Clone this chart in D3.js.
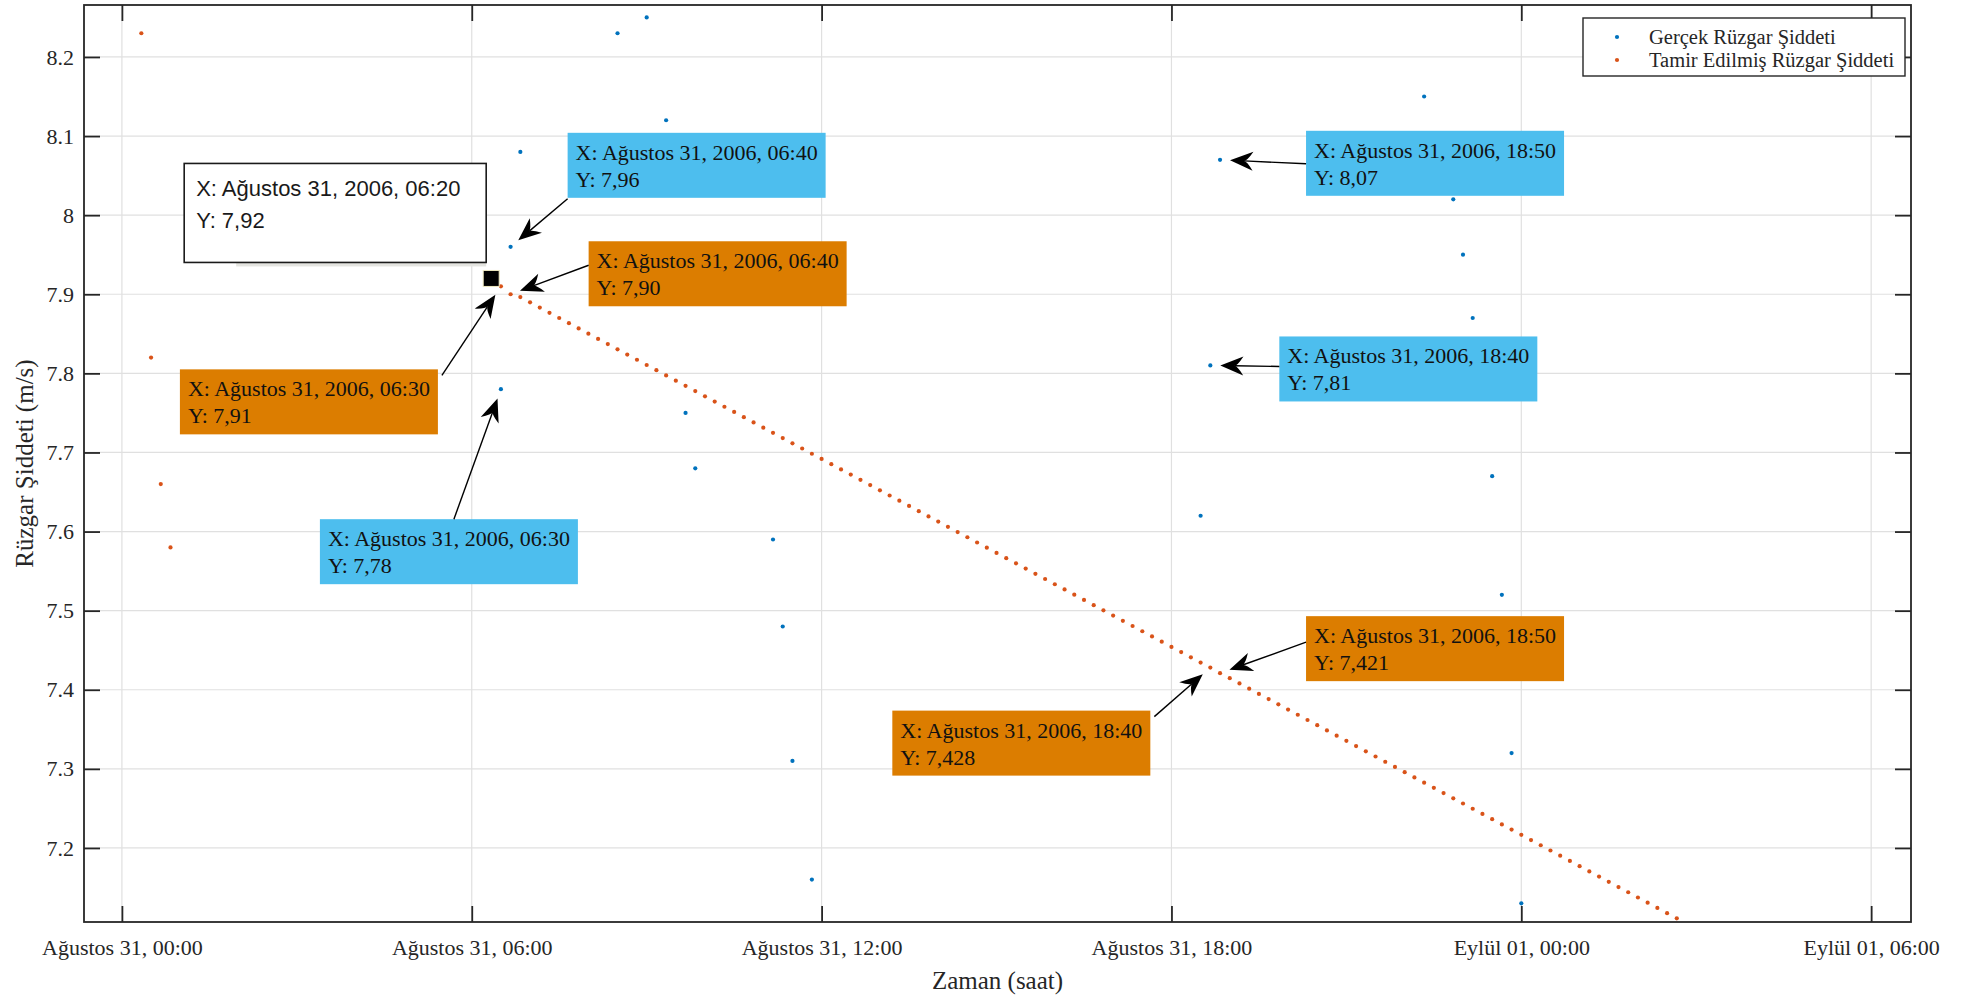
<!DOCTYPE html>
<html>
<head>
<meta charset="utf-8">
<script src="https://cdn.jsdelivr.net/npm/d3@7"></script>
<style>
  body { margin: 0; background: #fff; }
  svg { display: block; }
</style>
</head>
<body>
<svg id="chart" width="1982" height="1002"></svg>
<script>
// ---- Data -------------------------------------------------------------
// Measured wind speed (m/s), 10-minute records
const actualTimes = [
  "2006-08-31T06:30", "2006-08-31T06:40", "2006-08-31T06:50",
  "2006-08-31T08:30", "2006-08-31T09:00", "2006-08-31T09:20",
  "2006-08-31T09:40", "2006-08-31T09:50", "2006-08-31T11:10",
  "2006-08-31T11:20", "2006-08-31T11:30", "2006-08-31T11:50",
  "2006-08-31T18:30", "2006-08-31T18:40", "2006-08-31T18:50",
  "2006-08-31T22:20", "2006-08-31T22:50", "2006-08-31T23:00",
  "2006-08-31T23:10", "2006-08-31T23:30", "2006-08-31T23:40",
  "2006-08-31T23:50", "2006-09-01T00:00"
];
const actualValues = [
  7.78, 7.96, 8.08,
  8.23, 8.25, 8.12,
  7.75, 7.68, 7.59,
  7.48, 7.31, 7.16,
  7.62, 7.81, 8.07,
  8.15, 8.02, 7.95,
  7.87, 7.67, 7.52,
  7.32, 7.13
];

// Repaired wind speed: early records kept as they were
const repairedTimes = ["2006-08-31T00:20", "2006-08-31T00:30", "2006-08-31T00:40", "2006-08-31T00:50"];
const repairedValues = [8.23, 7.82, 7.66, 7.58];

// Repaired wind speed: filled block, one value per 10-minute record from fillStart
const fillStart = "2006-08-31T06:20";
const fillStepMinutes = 10;
const fillValues = [
  7.92, 7.91, 7.90, 7.8964, 7.8898, 7.8832, 7.8766, 7.8700, 7.8634, 7.8568,
  7.8502, 7.8436, 7.8370, 7.8304, 7.8238, 7.8172, 7.8106, 7.8040, 7.7974, 7.7908,
  7.7842, 7.7776, 7.7710, 7.7644, 7.7578, 7.7512, 7.7446, 7.7380, 7.7314, 7.7248,
  7.7182, 7.7116, 7.7050, 7.6984, 7.6918, 7.6852, 7.6786, 7.6720, 7.6654, 7.6588,
  7.6522, 7.6456, 7.6390, 7.6324, 7.6258, 7.6192, 7.6126, 7.6060, 7.5994, 7.5928,
  7.5862, 7.5796, 7.5730, 7.5664, 7.5598, 7.5532, 7.5466, 7.5400, 7.5334, 7.5268,
  7.5202, 7.5136, 7.5070, 7.5004, 7.4938, 7.4872, 7.4806, 7.4740, 7.4674, 7.4608,
  7.4542, 7.4476, 7.4410, 7.4344, 7.428, 7.421, 7.4146, 7.4080, 7.4014, 7.3948,
  7.3882, 7.3816, 7.3750, 7.3684, 7.3618, 7.3552, 7.3486, 7.3420, 7.3354, 7.3288,
  7.3222, 7.3156, 7.3090, 7.3024, 7.2958, 7.2892, 7.2826, 7.2760, 7.2694, 7.2628,
  7.2562, 7.2496, 7.2430, 7.2364, 7.2298, 7.2232, 7.2166, 7.2100, 7.2034, 7.1968,
  7.1902, 7.1836, 7.1770, 7.1704, 7.1638, 7.1572, 7.1506, 7.1440, 7.1374, 7.1308,
  7.1242, 7.1176, 7.1110
];

// Axis limits and ticks
const xLimits = ["2006-08-30T23:21", "2006-09-01T06:41"];
const yLimits = [7.1064, 8.2657];
const xTickTimes = ["2006-08-31T00:00", "2006-08-31T06:00", "2006-08-31T12:00",
                    "2006-08-31T18:00", "2006-09-01T00:00", "2006-09-01T06:00"];
const xTickLabels = ["Ağustos 31, 00:00", "Ağustos 31, 06:00", "Ağustos 31, 12:00",
                     "Ağustos 31, 18:00", "Eylül 01, 00:00", "Eylül 01, 06:00"];
const yTicks = [7.2, 7.3, 7.4, 7.5, 7.6, 7.7, 7.8, 7.9, 8, 8.1, 8.2];
const monthNames = ["Ocak", "Şubat", "Mart", "Nisan", "Mayıs", "Haziran",
                    "Temmuz", "Ağustos", "Eylül", "Ekim", "Kasım", "Aralık"];

const seriesNames = { actual: "Gerçek Rüzgar Şiddeti", repaired: "Tamir Edilmiş Rüzgar Şiddeti" };

// Data tips: which series, which record, how many decimals in the Y readout
const tipSeries = ["repaired", "actual", "repaired", "repaired", "actual",
                   "actual", "actual", "repaired", "repaired"];
const tipTimes  = ["2006-08-31T06:20", "2006-08-31T06:40", "2006-08-31T06:40",
                   "2006-08-31T06:30", "2006-08-31T06:30", "2006-08-31T18:50",
                   "2006-08-31T18:40", "2006-08-31T18:50", "2006-08-31T18:40"];
const tipDigits = [2, 2, 2, 2, 2, 2, 2, 3, 3];

// ---- Layout / style ----------------------------------------------------
const plot = { left: 84, right: 1911, top: 5, bottom: 922 };
const colors = {
  actual: "#0072BD", repaired: "#D95319",
  actualTip: "#4DBEEE", repairedTip: "#DC7D00",
  axis: "#262626", grid: "#e0e0e0"
};
// box offsets from the marked point, and where each arrow leaves its box
const tipLayout = [
  { plain: true, dx: -307, dy: -115, w: 302, h: 99 },
  { dx: 57,   dy: -114, ax: 0,   ay: 66 },
  { dx: 78,   dy: -53,  ax: 0,   ay: 24 },
  { dx: -321, dy: 83,   ax: 262, ay: 6 },
  { dx: -181, dy: 130,  ax: 134, ay: 0 },
  { dx: 86,   dy: -29,  ax: 0,   ay: 33 },
  { dx: 69,   dy: -29,  ax: 0,   ay: 30 },
  { dx: 86,   dy: -57,  ax: 0,   ay: 26 },
  { dx: -318, dy: 43,   ax: 262, ay: 6 }
];
const boxW = 258, boxH = 65;

// ---- Build ------------------------------------------------------------
const parse = d3.timeParse("%Y-%m-%dT%H:%M");

const actual = actualTimes.map((t, i) => ({ t: parse(t), v: actualValues[i] }));
const repaired = repairedTimes.map((t, i) => ({ t: parse(t), v: repairedValues[i] }))
  .concat(fillValues.map((v, i) => ({ t: d3.timeMinute.offset(parse(fillStart), i * fillStepMinutes), v })));
const seriesData = { actual, repaired };

const x = d3.scaleTime().domain(xLimits.map(parse)).range([plot.left, plot.right]);
const y = d3.scaleLinear().domain(yLimits).range([plot.bottom, plot.top]);

const svg = d3.select("#chart");
const serif = "'Liberation Serif', 'Times New Roman', serif";
const sans = "'Liberation Sans', Arial, Helvetica, sans-serif";

svg.append("defs").append("clipPath").attr("id", "plotClip")
  .append("rect")
  .attr("x", plot.left).attr("y", plot.top)
  .attr("width", plot.right - plot.left).attr("height", plot.bottom - plot.top);

// grid
const xTicks = xTickTimes.map(parse);
const grid = svg.append("g");
grid.selectAll("line.gx").data(xTicks).join("line")
  .attr("x1", d => x(d)).attr("x2", d => x(d))
  .attr("y1", plot.top).attr("y2", plot.bottom)
  .attr("stroke", colors.grid).attr("stroke-width", 1.2);
grid.selectAll("line.gy").data(yTicks).join("line")
  .attr("x1", plot.left).attr("x2", plot.right)
  .attr("y1", d => y(d)).attr("y2", d => y(d))
  .attr("stroke", colors.grid).attr("stroke-width", 1.2);

// markers
const marks = svg.append("g").attr("clip-path", "url(#plotClip)");
["actual", "repaired"].forEach(key => {
  marks.append("g").selectAll("circle").data(seriesData[key]).join("circle")
    .attr("cx", d => x(d.t)).attr("cy", d => y(d.v))
    .attr("r", 2.1).attr("fill", colors[key]);
});

// axes (ticks point inward on all four sides)
const tickLen = 16;
const fmtX = d => xTickLabels[xTicks.findIndex(t => +t === +d)];
const axes = svg.append("g").attr("color", colors.axis);

const axB = axes.append("g").attr("transform", `translate(0,${plot.bottom})`)
  .call(d3.axisBottom(x).tickValues(xTicks).tickFormat(fmtX)
    .tickSizeInner(-tickLen).tickSizeOuter(0).tickPadding(17));
const axT = axes.append("g").attr("transform", `translate(0,${plot.top})`)
  .call(d3.axisTop(x).tickValues(xTicks).tickFormat("")
    .tickSizeInner(-tickLen).tickSizeOuter(0));
const axL = axes.append("g").attr("transform", `translate(${plot.left},0)`)
  .call(d3.axisLeft(y).tickValues(yTicks).tickFormat(d => String(d))
    .tickSizeInner(-tickLen).tickSizeOuter(0).tickPadding(10));
const axR = axes.append("g").attr("transform", `translate(${plot.right},0)`)
  .call(d3.axisRight(y).tickValues(yTicks).tickFormat("")
    .tickSizeInner(-tickLen).tickSizeOuter(0));
[axB, axT, axL, axR].forEach(g => {
  g.select(".domain").remove();
  g.selectAll(".tick line").attr("stroke-width", 1.8);
  g.selectAll(".tick text").attr("font-family", serif).attr("font-size", 22).attr("fill", colors.axis);
});

axes.append("rect")
  .attr("x", plot.left).attr("y", plot.top)
  .attr("width", plot.right - plot.left).attr("height", plot.bottom - plot.top)
  .attr("fill", "none").attr("stroke", colors.axis).attr("stroke-width", 1.8);

// axis titles
svg.append("text")
  .attr("x", (plot.left + plot.right) / 2).attr("y", 989)
  .attr("text-anchor", "middle").attr("font-family", serif).attr("font-size", 25)
  .attr("fill", colors.axis).text("Zaman (saat)");
svg.append("text")
  .attr("transform", `translate(33,${(plot.top + plot.bottom) / 2}) rotate(-90)`)
  .attr("text-anchor", "middle").attr("font-family", serif).attr("font-size", 25)
  .attr("fill", colors.axis).text("Rüzgar Şiddeti (m/s)");

// legend
const legend = svg.append("g").attr("transform", "translate(1583,18)");
legend.append("rect").attr("width", 322).attr("height", 58)
  .attr("fill", "#fff").attr("stroke", colors.axis).attr("stroke-width", 1.4);
["actual", "repaired"].forEach((key, i) => {
  legend.append("circle").attr("cx", 34).attr("cy", 19 + i * 23).attr("r", 2.1).attr("fill", colors[key]);
  legend.append("text").attr("x", 66).attr("y", 26 + i * 23)
    .attr("font-family", serif).attr("font-size", 20.5).attr("fill", colors.axis)
    .text(seriesNames[key]);
});

// data tips
function tipLabel(d) {
  const p = n => String(n).padStart(2, "0");
  return `X: ${monthNames[d.t.getMonth()]} ${p(d.t.getDate())}, ${d.t.getFullYear()}, ${p(d.t.getHours())}:${p(d.t.getMinutes())}`;
}

function drawArrow(g, x0, y0, x1, y1) {
  const dx = x1 - x0, dy = y1 - y0, len = Math.hypot(dx, dy);
  const ux = dx / len, uy = dy / len, px = -uy, py = ux;
  const gap = 10, L = 23, hw = 9.5, N = 14;
  const tx = x1 - ux * gap, ty = y1 - uy * gap;
  g.append("line")
    .attr("x1", x0).attr("y1", y0)
    .attr("x2", tx - ux * N).attr("y2", ty - uy * N)
    .attr("stroke", "#000").attr("stroke-width", 1.4);
  g.append("path")
    .attr("d", `M${tx},${ty}` +
      `L${tx - ux * L + px * hw},${ty - uy * L + py * hw}` +
      `Q${tx - ux * (N + 3)},${ty - uy * (N + 3)} ${tx - ux * N},${ty - uy * N}` +
      `Q${tx - ux * (N + 3)},${ty - uy * (N + 3)} ${tx - ux * L - px * hw},${ty - uy * L - py * hw}Z`)
    .attr("fill", "#000");
}

const tips = svg.append("g");
tipSeries.forEach((key, i) => {
  const t = parse(tipTimes[i]);
  const d = seriesData[key].find(p => +p.t === +t);
  const lay = tipLayout[i];
  const cx = x(d.t), cy = y(d.v);
  const bx = cx + lay.dx, by = cy + lay.dy;
  const yText = "Y: " + d.v.toFixed(tipDigits[i]).replace(".", ",");
  const g = tips.append("g");
  if (lay.plain) {
    g.append("rect").attr("x", bx + 52).attr("y", by + 8)
      .attr("width", lay.w - 52).attr("height", lay.h - 4).attr("fill", "#e4e4e0");
    g.append("rect").attr("x", bx).attr("y", by).attr("width", lay.w).attr("height", lay.h)
      .attr("fill", "#fff").attr("stroke", "#1a1a1a").attr("stroke-width", 1.6);
    g.append("text").attr("x", bx + 12).attr("y", by + 33)
      .attr("font-family", sans).attr("font-size", 22).attr("fill", "#1a1a1a").text(tipLabel(d));
    g.append("text").attr("x", bx + 12).attr("y", by + 65)
      .attr("font-family", sans).attr("font-size", 22).attr("fill", "#1a1a1a").text(yText);
    g.append("rect").attr("x", cx - 8).attr("y", cy - 8).attr("width", 16).attr("height", 16)
      .attr("fill", "#000").attr("stroke", "#efe9c0").attr("stroke-width", 1);
  } else {
    g.append("rect").attr("x", bx).attr("y", by).attr("width", boxW).attr("height", boxH)
      .attr("fill", colors[key + "Tip"]);
    g.append("text").attr("x", bx + 8).attr("y", by + 27)
      .attr("font-family", serif).attr("font-size", 22).attr("fill", "#111").text(tipLabel(d));
    g.append("text").attr("x", bx + 8).attr("y", by + 54)
      .attr("font-family", serif).attr("font-size", 22).attr("fill", "#111").text(yText);
    drawArrow(g, bx + lay.ax, by + lay.ay, cx, cy);
  }
});
</script>
</body>
</html>
